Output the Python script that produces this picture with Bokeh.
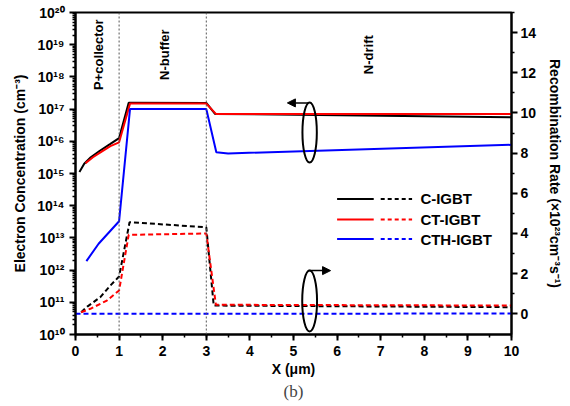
import math
from bokeh.plotting import figure
from bokeh.models import (Range1d, LinearAxis, LinearScale, FixedTicker, CustomJSTickFormatter,
                          Span, Label, Arrow, NormalHead, Title, SingleIntervalTicker)
from bokeh.embed import file_html
from bokeh.resources import INLINE

# ---------------- data ----------------
# Electron concentration (left axis, cm^-3), solid lines
x_c_conc = [0.09, 0.2, 0.35, 0.55, 0.8, 1.0, 1.22, 3.0, 3.2, 10.0]
c_conc = [1.12e15, 2.0e15, 3.2e15, 5.0e15, 8.3e15, 1.26e16, 1.58e17, 1.55e17, 7.1e16, 5.6e16]

x_ct_conc = [0.23, 0.4, 0.6, 0.8, 1.0, 1.25, 3.0, 3.22, 10.0]
ct_conc = [2.1e15, 3.2e15, 4.8e15, 7.1e15, 9.3e15, 1.48e17, 1.48e17, 7.1e16, 7.0e16]

x_cth_conc = [0.25, 0.53, 1.0, 1.25, 3.0, 3.23, 3.5, 10.0]
cth_conc = [1.9e12, 6.6e12, 3.3e13, 1.0e17, 1.0e17, 4.6e15, 4.2e15, 7.8e15]

# Recombination rate (right axis, x1e23 cm^-3 s^-1), dashed lines
x_c_rate = [0.13, 0.27, 0.57, 0.8, 1.0, 1.24, 3.0, 3.17, 10.0]
c_rate = [0.08, 0.36, 0.83, 1.41, 1.86, 4.56, 4.31, 0.41, 0.33]

x_ct_rate = [0.13, 0.34, 0.72, 1.0, 1.22, 3.0, 3.22, 10.0]
ct_rate = [0.08, 0.25, 0.66, 1.16, 3.93, 4.0, 0.45, 0.41]

x_cth_rate = [0.0, 5.0, 10.0]
cth_rate = [0.0, 0.0, 0.02]

series_names = ["C-IGBT", "CT-IGBT", "CTH-IGBT"]
series_colors = ["#000000", "#ff0000", "#0000ff"]

region_names = ["P+collector", "N-buffer", "N-drift"]
region_x = [0.52, 2.04, 6.72]
boundaries = [1, 3]

x_ticks = list(range(0, 11))
log_ticks = [10.0 ** e for e in range(10, 21)]
rate_ticks = list(range(0, 15, 2))

FONT = "Liberation Sans"

p = figure(width=570, height=406, x_range=Range1d(0, 10), y_range=Range1d(1e10, 1e20),
           y_axis_type="log", output_backend="svg", toolbar_location=None,
           min_border_left=75, min_border_right=59, min_border_top=12, min_border_bottom=72,
           background_fill_color="white", border_fill_color="white")
p.extra_y_ranges = {"rate": Range1d(-1.03, 15)}
p.extra_y_scales = {"rate": LinearScale()}
p.xgrid.visible = False
p.ygrid.visible = False
p.outline_line_color = "black"
p.outline_line_width = 2

# Axes styling
def style_axis(ax):
    ax.axis_line_width = 2
    ax.axis_line_color = "black"
    ax.major_tick_line_color = "black"
    ax.minor_tick_line_color = "black"
    ax.major_tick_line_width = 2
    ax.minor_tick_line_width = 1.5
    ax.major_tick_in = 0
    ax.major_tick_out = 6
    ax.minor_tick_in = 0
    ax.minor_tick_out = 3
    ax.major_label_text_font = FONT
    ax.major_label_text_font_style = "bold"
    ax.major_label_text_font_size = "14px"
    ax.major_label_text_color = "black"
    ax.axis_label_text_font = FONT
    ax.axis_label_text_font_style = "bold"
    ax.axis_label_text_font_size = "14px"
    ax.axis_label_text_color = "black"

xa = p.xaxis[0]
xa.ticker = SingleIntervalTicker(interval=1, num_minor_ticks=2)
xa.axis_label = "X (μm)"
style_axis(xa)
xa.axis_label_standoff = 2

ya = p.yaxis[0]
minor_log = [m * 10.0 ** e for e in range(10, 20) for m in range(2, 10)]
ya.ticker = FixedTicker(ticks=log_ticks, minor_ticks=minor_log)
ya.formatter = CustomJSTickFormatter(code="""
const sup = {'0':'\u2070','1':'\u00b9','2':'\u00b2','3':'\u00b3','4':'\u2074','5':'\u2075','6':'\u2076','7':'\u2077','8':'\u2078','9':'\u2079','-':'\u207b'};
const e = Math.round(Math.log10(tick));
return '10' + String(e).split('').map(c => sup[c]).join('');
""")
ya.axis_label = "Electron Concentration (cm⁻³)"
style_axis(ya)
ya.axis_label_standoff = 6

ra = LinearAxis(y_range_name="rate", axis_label="Recombination Rate (×10²³cm⁻³s⁻¹)")
ra.ticker = FixedTicker(ticks=rate_ticks, minor_ticks=list(range(1, 16, 2)))
style_axis(ra)
ra.major_label_standoff = 3
ra.axis_label_standoff = 8
p.add_layout(ra, "right")

# Region boundaries
for b in boundaries:
    p.add_layout(Span(location=b, dimension="height", line_color="#555555",
                      line_dash="2 2", line_width=1))

# Region labels
for name, rx in zip(region_names, region_x):
    p.add_layout(Label(x=rx, y=12.9, y_range_name="rate", text=name, angle=math.pi / 2,
                       text_align="center", text_baseline="middle", text_font=FONT,
                       text_font_style="bold", text_font_size="13px", text_color="black"))

# Concentration curves (solid)
conc_x = [x_c_conc, x_ct_conc, x_cth_conc]
conc_y = [c_conc, ct_conc, cth_conc]
for xs, ys, col in zip(conc_x, conc_y, series_colors):
    p.line(xs, ys, line_color=col, line_width=2)

# Recombination rate curves (dashed)
rate_x = [x_c_rate, x_ct_rate, x_cth_rate]
rate_y = [c_rate, ct_rate, cth_rate]
for xs, ys, col in zip(rate_x, rate_y, series_colors):
    p.line(xs, ys, line_color=col, line_width=2, line_dash="5 3", y_range_name="rate")

# Ellipses with arrows
p.ellipse(x=[5.37, 5.37], y=[9.03, 0.64], width=[0.33, 0.34], height=[2.99, 3.03],
          y_range_name="rate", fill_alpha=0, line_color="black", line_width=2)
p.add_layout(Arrow(end=NormalHead(size=8, fill_color="black", line_color="black"),
                   x_start=5.34, y_start=10.5, x_end=4.86, y_end=10.5,
                   y_range_name="rate", line_width=1.5, line_color="black"))
p.add_layout(Arrow(end=NormalHead(size=8, fill_color="black", line_color="black"),
                   x_start=5.34, y_start=2.15, x_end=5.85, y_end=2.15,
                   y_range_name="rate", line_width=1.5, line_color="black"))

# Custom legend (solid + dashed sample, label)
leg_y = [5.72, 4.69, 3.72]
for name, col, ly in zip(series_names, series_colors, leg_y):
    p.segment(x0=[6.0], y0=[ly], x1=[6.84], y1=[ly], line_color=col, line_width=2,
              y_range_name="rate")
    p.segment(x0=[7.0], y0=[ly], x1=[7.72], y1=[ly], line_color=col, line_width=2,
              line_dash="4 3", y_range_name="rate")
    p.add_layout(Label(x=7.91, y=ly, y_range_name="rate", text=name, text_align="left",
                       text_baseline="middle", text_font=FONT, text_font_style="bold",
                       text_font_size="15px", text_color="black"))

p.add_layout(Title(text="(b)", align="center", text_font="Liberation Serif",
                   text_font_style="normal", text_font_size="17px", standoff=0), "below")

open("out.html", "w").write(file_html(p, INLINE))
